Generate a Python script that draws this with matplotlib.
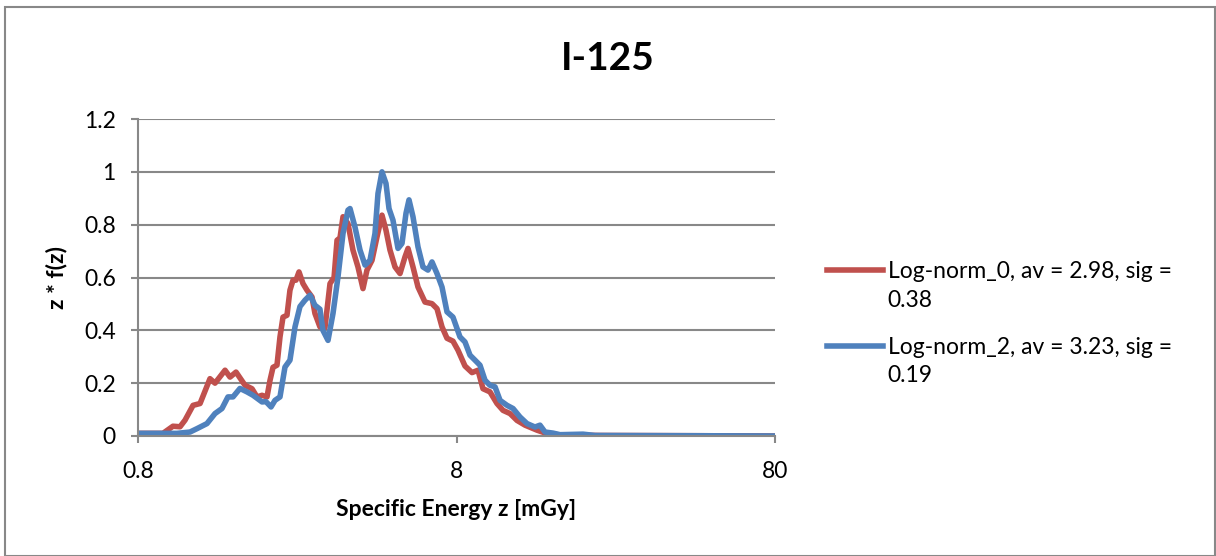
import numpy as np
import matplotlib
matplotlib.use("Agg")
import matplotlib.pyplot as plt
from matplotlib.patches import Rectangle
from matplotlib.ticker import FixedLocator, NullLocator
from matplotlib.legend_handler import HandlerLine2D

# values
z_red = [0.80, 0.958, 1.030, 1.084, 1.124, 1.191, 1.253, 1.346, 1.396, 1.501,
         1.556, 1.625, 1.734, 1.824, 1.891, 1.961, 2.033, 2.077, 2.123, 2.185,
         2.233, 2.282, 2.349, 2.400, 2.454, 2.507, 2.562, 2.637, 2.714, 2.815,
         2.875, 2.981, 3.091, 3.206, 3.301, 3.373, 3.446, 3.522, 3.651, 3.784,
         3.924, 4.069, 4.188, 4.343, 4.503, 4.668, 4.805, 4.946, 5.129, 5.318,
         5.513, 5.635, 5.841, 6.056, 6.370, 6.701, 6.948, 7.204, 7.469, 7.799,
         8.086, 8.506, 8.949, 9.346, 9.689, 10.19, 10.72, 11.20, 11.78, 12.39,
         13.13, 14.32, 15.40, 16.91, 22.58, 46.5, 80.0]
f_red = [0.010, 0.010, 0.037, 0.035, 0.060, 0.116, 0.123, 0.217, 0.200, 0.249,
         0.223, 0.242, 0.192, 0.179, 0.148, 0.154, 0.148, 0.210, 0.260, 0.268,
         0.375, 0.450, 0.457, 0.552, 0.590, 0.590, 0.621, 0.577, 0.552, 0.526,
         0.464, 0.413, 0.410, 0.577, 0.600, 0.741, 0.750, 0.830, 0.804, 0.704,
         0.640, 0.558, 0.628, 0.665, 0.754, 0.836, 0.779, 0.704, 0.640, 0.615,
         0.678, 0.710, 0.640, 0.564, 0.507, 0.501, 0.482, 0.413, 0.370, 0.359,
         0.325, 0.265, 0.240, 0.249, 0.179, 0.167, 0.123, 0.097, 0.085, 0.059,
         0.041, 0.022, 0.009, 0.004, 0.002, 0.001, 0.000]

z_blue = [0.80, 1.060, 1.165, 1.226, 1.317, 1.396, 1.468, 1.533, 1.590, 1.672,
          1.759, 1.838, 1.961, 2.018, 2.093, 2.154, 2.233, 2.315, 2.400, 2.489,
          2.580, 2.675, 2.774, 2.875, 2.981, 3.046, 3.160, 3.276, 3.396, 3.522,
          3.651, 3.705, 3.840, 3.982, 4.129, 4.280, 4.438, 4.535, 4.668, 4.805,
          4.911, 5.054, 5.241, 5.395, 5.553, 5.675, 5.841, 6.056, 6.278, 6.509,
          6.701, 6.948, 7.204, 7.469, 7.799, 8.204, 8.506, 8.820, 9.146, 9.481,
          9.831, 10.19, 10.57, 10.96, 11.53, 12.04, 12.66, 13.32, 14.11, 14.63,
          15.17, 16.07, 16.91, 19.96, 21.78, 46.5, 80.0]
f_blue = [0.010, 0.010, 0.015, 0.028, 0.047, 0.085, 0.104, 0.148, 0.148, 0.180,
          0.167, 0.154, 0.129, 0.130, 0.110, 0.135, 0.148, 0.261, 0.287, 0.413,
          0.490, 0.514, 0.533, 0.495, 0.480, 0.400, 0.362, 0.464, 0.602, 0.767,
          0.855, 0.861, 0.791, 0.704, 0.647, 0.665, 0.767, 0.918, 1.000, 0.956,
          0.861, 0.817, 0.710, 0.729, 0.843, 0.894, 0.830, 0.716, 0.640, 0.628,
          0.659, 0.615, 0.564, 0.470, 0.450, 0.375, 0.356, 0.306, 0.287, 0.268,
          0.211, 0.192, 0.186, 0.135, 0.116, 0.104, 0.072, 0.047, 0.034, 0.041,
          0.015, 0.011, 0.005, 0.007, 0.002, 0.001, 0.000]

label_red = "Log-norm_0, av = 2.98, sig =\n0.38"
label_blue = "Log-norm_2, av = 3.23, sig =\n0.19"

x_ticks = [0.8, 8, 80]
x_ticklabels = ["0.8", "8", "80"]
y_ticks = [0, 0.2, 0.4, 0.6, 0.8, 1.0, 1.2]
y_ticklabels = ["0", "0.2", "0.4", "0.6", "0.8", "1", "1.2"]

FS = 16.5
LEG_LS = 1.45


class FirstLineHandler(HandlerLine2D):
    # put the legend line next to the first text line, like Excel does
    def create_artists(self, legend, orig_handle, xdescent, ydescent,
                       width, height, fontsize, trans):
        arts = super().create_artists(legend, orig_handle, xdescent, ydescent,
                                      width, height, fontsize, trans)
        shift = 0.48 * LEG_LS * fontsize
        for a in arts:
            a.set_ydata(np.asarray(a.get_ydata()) + shift)
        return arts


plt.rcParams["font.family"] = ["Lato", "DejaVu Sans"]

W, H = 1216, 556
fig = plt.figure(figsize=(W / 100, H / 100), dpi=100)
ax = fig.add_axes([138 / W, 1 - 436 / H, (775 - 138) / W, (436 - 119) / H])

grid_c = "#888888"
ax.plot(z_red, f_red, color="#C0504D", lw=4, label=label_red, solid_joinstyle="round")
ax.plot(z_blue, f_blue, color="#4F81BD", lw=4, label=label_blue, solid_joinstyle="round")

ax.set_xscale("log")
ax.set_xlim(0.8, 80)
ax.set_ylim(0, 1.2)
ax.xaxis.set_major_locator(FixedLocator(x_ticks))
ax.xaxis.set_minor_locator(NullLocator())
ax.set_xticks(x_ticks, x_ticklabels)
ax.set_yticks(y_ticks, y_ticklabels)
ax.grid(axis="y", color=grid_c, lw=1.5)
ax.set_axisbelow(True)

for s in ["top", "right"]:
    ax.spines[s].set_visible(False)
for s in ["left", "bottom"]:
    ax.spines[s].set_color(grid_c)
    ax.spines[s].set_linewidth(1.5)
ax.tick_params(axis="both", color=grid_c, width=1.5, length=5, labelsize=FS)
ax.tick_params(axis="x", pad=13)
ax.tick_params(axis="y", pad=11)

ax.set_xlabel("Specific Energy z [mGy]", fontsize=FS, fontweight="bold", va="top")
ax.set_ylabel("z * f(z)", fontsize=FS, fontweight="bold")
ax.xaxis.set_label_coords(0.5, -(499 - 436) / (436 - 119))
ax.yaxis.set_label_coords(-(138 - 67) / (775 - 138), 0.5)

fig.text(608 / W, 1 - 58 / H, "I-125", fontsize=28, fontweight="bold",
         ha="center", va="center")

leg = fig.legend(loc="upper left", bbox_to_anchor=(827 / W, 1 - 261 / H),
                 frameon=False, fontsize=FS, handlelength=2.45, handletextpad=0.2,
                 labelspacing=1.14, borderpad=0, borderaxespad=0,
                 handler_map={plt.Line2D: FirstLineHandler()})
for t in leg.get_texts():
    t.set_linespacing(LEG_LS)

fig.patches.append(Rectangle((5 / W, 0), (1210 / W), 1 - 7 / H, transform=fig.transFigure,
                             fill=False, edgecolor=grid_c, lw=1.5))

fig.savefig("out.png", dpi=100)
